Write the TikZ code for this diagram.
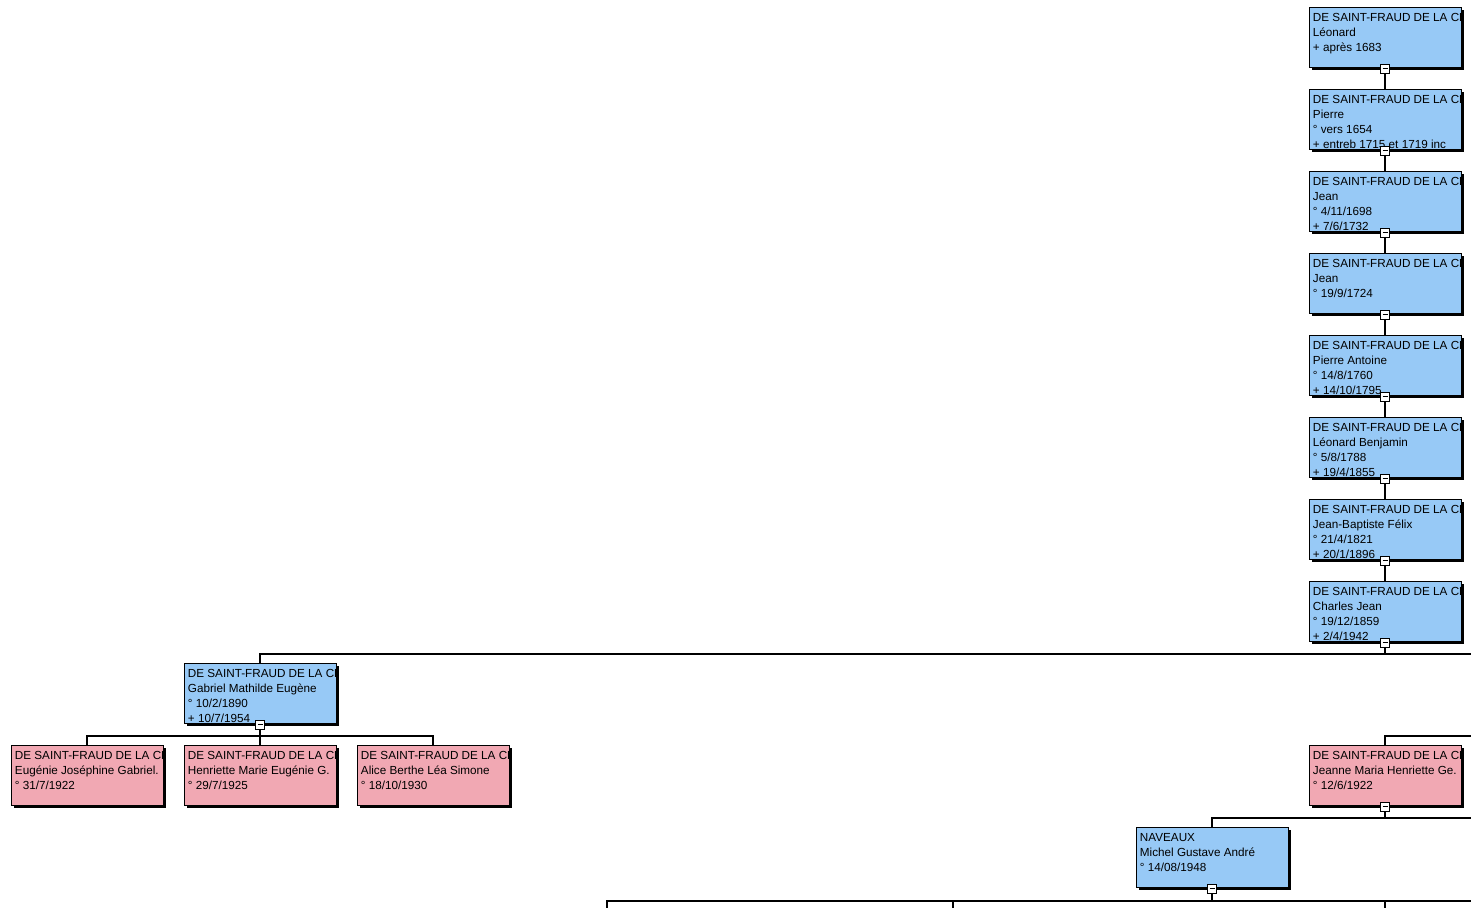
\documentclass[tikz,border=0pt]{standalone}
\usepackage{fontspec}
\setmainfont{Liberation Sans}
\usetikzlibrary{shadows}
\definecolor{manblue}{RGB}{151,201,246}
\definecolor{womanpink}{RGB}{241,168,179}
\tikzset{
  card/.style = {draw, line width=0.9pt, minimum width=152pt, minimum height=60pt, inner sep=0pt,
    drop shadow={shadow xshift=3pt, shadow yshift=-3pt, fill=black, opacity=1}},
  man/.style = {card, fill=manblue},
  woman/.style = {card, fill=womanpink},
  lines/.style = {path picture={\node[draw=none, fill=none, minimum width=0pt, minimum height=0pt,
      anchor=north west, inner sep=0pt, align=left, font=\fontsize{11.7}{15}\selectfont]
      at ([xshift=3.5pt, yshift=-5.5pt]path picture bounding box.north west) {#1};}},
  fold/.style = {draw, fill=white, line width=0.7pt, minimum size=9pt, inner sep=0pt,
    path picture={\draw[line width=0.8pt] ([xshift=-2.5pt]path picture bounding box.center) -- ([xshift=2.5pt]path picture bounding box.center);}},
  link/.style = {line width=1.6pt}
}

\begin{document}
\begin{tikzpicture}[x=1pt, y=-1pt]
  \useasboundingbox (0,0) rectangle (1471,907);

  % direct line, top to bottom
  \path (1385,37) node[man, lines={DE SAINT-FRAUD DE LA CH\\Léonard\\+ après 1683}] (leonard) {}
      ++(0,82) node[man, lines={DE SAINT-FRAUD DE LA CH\\Pierre\\° vers 1654\\+ entreb 1715 et 1719 inc}] (pierre) {}
      ++(0,82) node[man, lines={DE SAINT-FRAUD DE LA CH\\Jean\\° 4/11/1698\\+ 7/6/1732}] (jean1) {}
      ++(0,82) node[man, lines={DE SAINT-FRAUD DE LA CH\\Jean\\° 19/9/1724}] (jean2) {}
      ++(0,82) node[man, lines={DE SAINT-FRAUD DE LA CH\\Pierre Antoine\\° 14/8/1760\\+ 14/10/1795}] (pierreant) {}
      ++(0,82) node[man, lines={DE SAINT-FRAUD DE LA CH\\Léonard Benjamin\\° 5/8/1788\\+ 19/4/1855}] (leonardben) {}
      ++(0,82) node[man, lines={DE SAINT-FRAUD DE LA CH\\Jean-Baptiste Félix\\° 21/4/1821\\+ 20/1/1896}] (jbfelix) {}
      ++(0,82) node[man, lines={DE SAINT-FRAUD DE LA CH\\Charles Jean\\° 19/12/1859\\+ 2/4/1942}] (charles) {};

  % children and grandchildren
  \node[man, lines={DE SAINT-FRAUD DE LA CH\\Gabriel Mathilde Eugène\\° 10/2/1890\\+ 10/7/1954}] (gabriel) at (260,693) {};
  \path (87,775) node[woman, lines={DE SAINT-FRAUD DE LA CH\\Eugénie Joséphine Gabriel.\\° 31/7/1922}] (eugenie) {}
      ++(173,0) node[woman, lines={DE SAINT-FRAUD DE LA CH\\Henriette Marie Eugénie G.\\° 29/7/1925}] (henriette) {}
      ++(173,0) node[woman, lines={DE SAINT-FRAUD DE LA CH\\Alice Berthe Léa Simone\\° 18/10/1930}] (alice) {};
  \node[woman, lines={DE SAINT-FRAUD DE LA CH\\Jeanne Maria Henriette Ge.\\° 12/6/1922}] (jeanne) at (1385,775) {};
  \node[man, lines={NAVEAUX\\Michel Gustave André\\° 14/08/1948}] (naveaux) at (1212,857) {};

  % fold boxes
  \foreach \who in {leonard, pierre, jean1, jean2, pierreant, leonardben, jbfelix, charles, gabriel, jeanne, naveaux}
    \node[fold] (f-\who) at ([yshift=-1pt]\who.south) {};

  % free ends at the picture edge
  \coordinate (e1) at (1471,654);
  \coordinate (e2) at (1471,736);
  \coordinate (e3) at (1471,818);
  \coordinate (e4) at (1471,901);
  \coordinate (g1) at (261,736);
  \coordinate (d1) at (607,910);
  \coordinate (d2) at (953,910);
  \coordinate (d3) at (1385,910);

  \draw[link] (f-leonard) -- (pierre.north);
  \draw[link] (f-pierre) -- (jean1.north);
  \draw[link] (f-jean1) -- (jean2.north);
  \draw[link] (f-jean2) -- (pierreant.north);
  \draw[link] (f-pierreant) -- (leonardben.north);
  \draw[link] (f-leonardben) -- (jbfelix.north);
  \draw[link] (f-jbfelix) -- (charles.north);
  \draw[link] (f-charles) -- (f-charles |- e1);
  \draw[link] (gabriel.north) |- (e1);
  \draw[link] (f-gabriel) -- (henriette.north);
  \draw[link] (eugenie.north) |- (g1) -| (alice.north);
  \draw[link] (jeanne.north) |- (e2);
  \draw[link] (f-jeanne) -- (f-jeanne |- e3);
  \draw[link] (naveaux.north) |- (e3);
  \draw[link] (f-naveaux) -- (f-naveaux |- e4);
  \draw[link] (d1) |- (e4);
  \draw[link] (d2) -- (d2 |- e4);
  \draw[link] (d3) -- (d3 |- e4);
\end{tikzpicture}
\end{document}
